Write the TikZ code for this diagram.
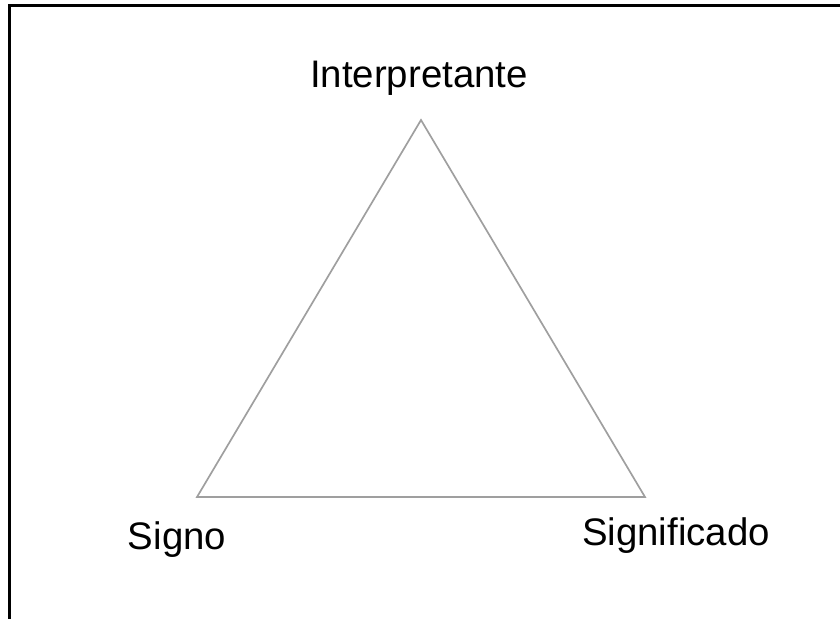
\documentclass[tikz,border=0pt]{standalone}
\usepackage{fontspec}
\setmainfont{Liberation Sans}
\usepackage{tikz}

\begin{document}
\begin{tikzpicture}[x=0.025cm, y=-0.025cm, thick]

\useasboundingbox (0,0) rectangle (840,619);

% frame (top and left edge)
\draw[black, line width=1.5pt] (840,5.5) -- (9.5,5.5) -- (9.5,619);

% corners of the triangle
\coordinate (interp) at (421,120);
\coordinate (signo) at (197,497);
\coordinate (signif) at (645,497);

% triangle
\draw[gray!75, line width=1.2pt] (interp) -- (signif) -- (signo) -- cycle;

% labels
\tikzset{lbl/.style={anchor=base, inner sep=0pt, font=\fontsize{27.3}{31}\selectfont}}
\node[lbl] (interplbl) at (419,87) {Interpretante};
\node[lbl] (signolbl) at (177,549) {Signo};
\node[lbl] (signiflbl) at (676,545) {Significado};

\end{tikzpicture}
\end{document}
